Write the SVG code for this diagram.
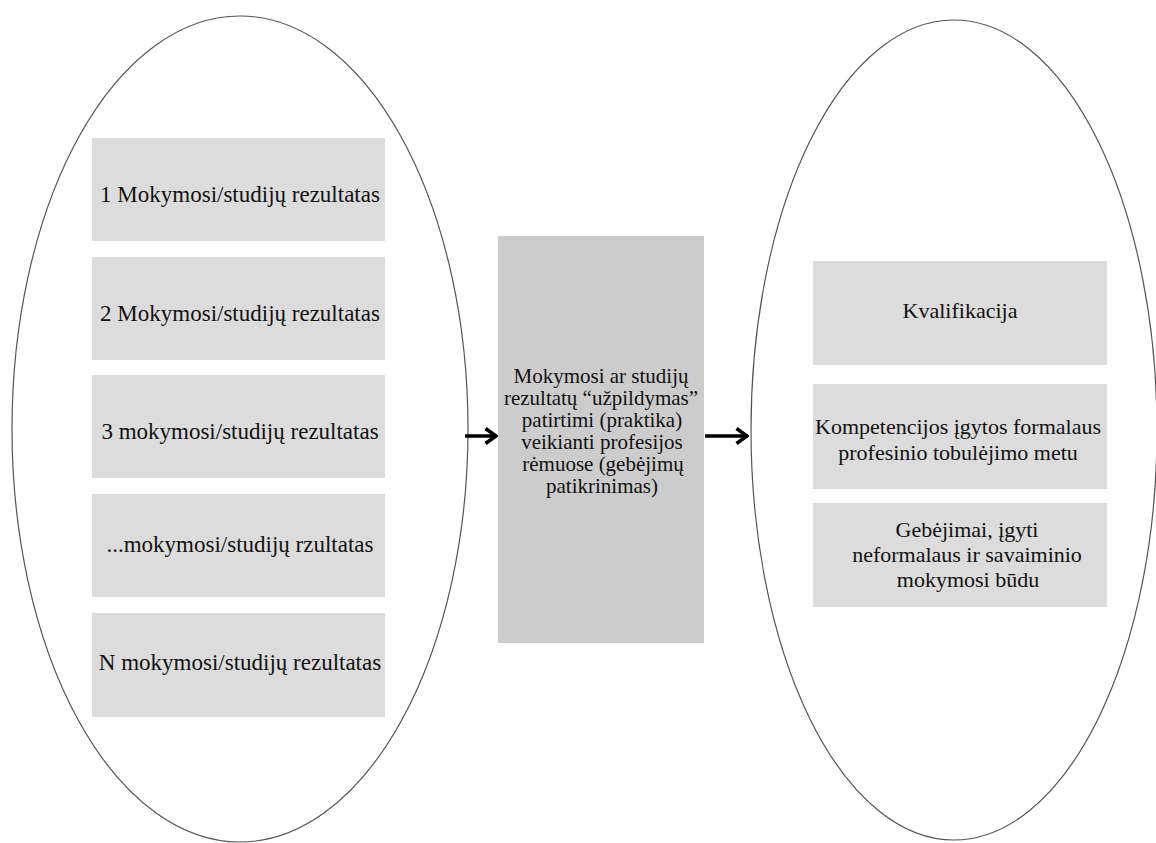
<svg xmlns="http://www.w3.org/2000/svg" width="1156" height="843" viewBox="0 0 1156 843">
  <style>
    .frame { fill: none; stroke: #555555; stroke-width: 1.2; }
    .box { fill: #dcdcdc; }
    .core { fill: #cccccc; }
    text { font-family: "Liberation Serif", "Times New Roman", serif; fill: #111111; text-anchor: middle; }
    .lg { font-size: 23px; }
    .md { font-size: 22px; }
    .sm { font-size: 21px; }
    .link { stroke: #000000; stroke-width: 3.5; fill: none; }
  </style>
  <defs>
    <marker id="head" viewBox="0 0 14 18" refX="12" refY="9" markerWidth="14" markerHeight="18" markerUnits="userSpaceOnUse" orient="auto">
      <path d="M1.5,1.5 L12,9 L1.5,16.5" fill="none" stroke="#000000" stroke-width="3.5"/>
    </marker>
  </defs>
  <rect width="1156" height="843" fill="#ffffff"/>

  <!-- left group: learning outcomes -->
  <g id="outcomes">
    <ellipse class="frame" cx="240" cy="429" rx="228" ry="413"/>
    <g id="outcome-1">
      <rect class="box" x="92" y="138" width="293" height="103"/>
      <text class="lg" x="240" y="202">1 Mokymosi/studijų rezultatas</text>
    </g>
    <g id="outcome-2">
      <rect class="box" x="92" y="257" width="293" height="103"/>
      <text class="lg" x="240" y="321">2 Mokymosi/studijų rezultatas</text>
    </g>
    <g id="outcome-3">
      <rect class="box" x="92" y="375" width="293" height="103"/>
      <text class="lg" x="240" y="439">3 mokymosi/studijų rezultatas</text>
    </g>
    <g id="outcome-etc">
      <rect class="box" x="92" y="494" width="293" height="103"/>
      <text class="lg" x="240" y="552">...mokymosi/studijų rzultatas</text>
    </g>
    <g id="outcome-n">
      <rect class="box" x="92" y="613" width="293" height="104"/>
      <text class="lg" x="240" y="670">N mokymosi/studijų rezultatas</text>
    </g>
  </g>

  <!-- middle: practice-based filling of outcomes -->
  <g id="practice">
    <rect class="core" x="498" y="236" width="206" height="407"/>
    <text class="sm" x="601" y="383">Mokymosi ar studijų</text>
    <text class="sm" x="601" y="405">rezultatų “užpildymas”</text>
    <text class="sm" x="602" y="427">patirtimi (praktika)</text>
    <text class="sm" x="602" y="449">veikianti profesijos</text>
    <text class="sm" x="603" y="471">rėmuose (gebėjimų</text>
    <text class="sm" x="602" y="493">patikrinimas)</text>
  </g>

  <!-- right group: recognised results -->
  <g id="results">
    <ellipse class="frame" cx="954" cy="430" rx="203" ry="410"/>
    <g id="qualification">
      <rect class="box" x="813" y="261" width="294" height="104"/>
      <text class="md" x="960" y="318">Kvalifikacija</text>
    </g>
    <g id="competences">
      <rect class="box" x="813" y="384" width="294" height="105"/>
      <text class="md" x="958" y="434">Kompetencijos įgytos formalaus</text>
      <text class="md" x="958" y="460">profesinio tobulėjimo metu</text>
    </g>
    <g id="abilities">
      <rect class="box" x="813" y="503" width="294" height="104"/>
      <text class="md" x="967" y="537">Gebėjimai, įgyti</text>
      <text class="md" x="967" y="562">neformalaus ir savaiminio</text>
      <text class="md" x="968" y="587">mokymosi būdu</text>
    </g>
  </g>

  <!-- connectors -->
  <g id="connectors">
    <line class="link" x1="465" y1="436" x2="496" y2="436" marker-end="url(#head)"/>
    <line class="link" x1="705" y1="436" x2="747" y2="436" marker-end="url(#head)"/>
  </g>
</svg>
